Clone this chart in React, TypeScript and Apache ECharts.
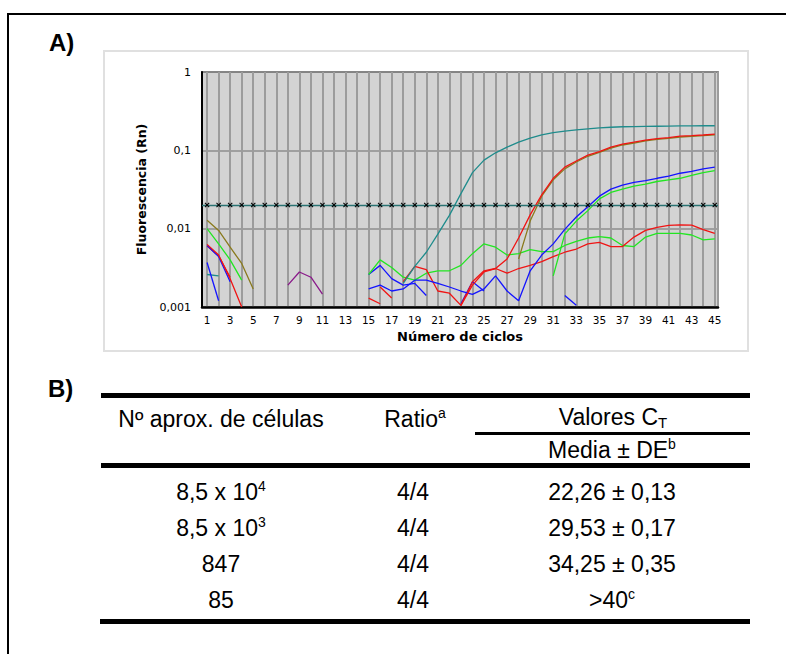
import React, { useEffect, useRef } from 'react';
import * as echarts from 'echarts';

// ---------- data ----------
const Y_TICK_LABELS = ['0,001', '0,01', '0,1', '1'];
const THRESHOLD = 0.02;
const CYCLES = [1,2,3,4,5,6,7,8,9,10,11,12,13,14,15,16,17,18,19,20,21,22,23,24,25,26,27,28,29,30,31,32,33,34,35,36,37,38,39,40,41,42,43,44,45];

const tealAmp: [number, number][] = [[18,0.0020],[19,0.0033],[20,0.0050],[21,0.0085],[22,0.0148],[23,0.028],[24,0.052],[25,0.075],[26,0.093],[27,0.110],[28,0.127],[29,0.143],[30,0.158],[31,0.168],[32,0.176],[33,0.182],[34,0.188],[35,0.193],[36,0.197],[37,0.200],[38,0.201],[39,0.202],[40,0.203],[41,0.204],[42,0.205],[43,0.205],[44,0.206],[45,0.206]];
const redAmp: [number, number][] = [[23,0.00105],[24,0.0019],[25,0.0028],[26,0.0031],[27,0.0041],[28,0.0076],[29,0.015],[30,0.027],[31,0.044],[32,0.061],[33,0.073],[34,0.087],[35,0.096],[36,0.110],[37,0.120],[38,0.127],[39,0.135],[40,0.141],[41,0.145],[42,0.152],[43,0.154],[44,0.157],[45,0.161]];
const oliveAmp: [number, number][] = [[28,0.0041],[29,0.0125],[30,0.026],[31,0.042],[32,0.058],[33,0.071],[34,0.084],[35,0.094],[36,0.107],[37,0.117],[38,0.124],[39,0.132],[40,0.138],[41,0.142],[42,0.148],[43,0.151],[44,0.154],[45,0.158]];
const blueAmp: [number, number][] = [[15,0.0017],[16,0.0019],[17,0.0016],[18,0.0017],[19,0.0022],[20,0.0022],[21,0.0020],[22,0.0018],[23,0.0016],[24,0.00145],[25,0.0017],[26,0.0025],[27,0.0016],[28,0.0012],[29,0.0029],[30,0.0046],[31,0.0064],[32,0.0098],[33,0.0141],[34,0.019],[35,0.026],[36,0.032],[37,0.036],[38,0.039],[39,0.041],[40,0.044],[41,0.047],[42,0.051],[43,0.054],[44,0.058],[45,0.061]];
const greenAmp: [number, number][] = [[31,0.0025],[32,0.0085],[33,0.0125],[34,0.017],[35,0.024],[36,0.029],[37,0.032],[38,0.035],[39,0.037],[40,0.040],[41,0.042],[42,0.044],[43,0.048],[44,0.052],[45,0.055]];
const greenBase: [number, number][] = [[15,0.0026],[16,0.0040],[17,0.0032],[18,0.0024],[19,0.0022],[20,0.0027],[21,0.0029],[22,0.0029],[23,0.0034],[24,0.0048],[25,0.0064],[26,0.0058],[27,0.0046],[28,0.0048],[29,0.0054],[30,0.0051],[31,0.0051],[32,0.0061],[33,0.0069],[34,0.0076],[35,0.0079],[36,0.0076],[37,0.0061],[38,0.0059],[39,0.0078],[40,0.0087],[41,0.0087],[42,0.0087],[43,0.0083],[44,0.0072],[45,0.0074]];
const redBase: [number, number][] = [[18,0.0021],[19,0.0033],[20,0.0030],[21,0.0016],[22,0.0015],[23,0.00105],[24,0.0021],[25,0.0029],[26,0.0031],[27,0.0027],[28,0.0031],[29,0.0034],[30,0.0038],[31,0.0044],[32,0.0050],[33,0.0055],[34,0.0064],[35,0.0067],[36,0.0059],[37,0.0059],[38,0.0078],[39,0.0095],[40,0.0104],[41,0.0110],[42,0.0112],[43,0.0111],[44,0.0097],[45,0.0087]];
const blueShort: [number, number][] = [[15,0.0026],[16,0.0034],[17,0.0023],[18,0.0019],[19,0.0020],[20,0.0014]];
const blueMid: [number, number][] = [[23,0.0011],[24,0.0021],[25,0.0016]];
const blueLate: [number, number][] = [[32,0.0014],[33,0.00105]];
const redShortA: [number, number][] = [[15,0.0013],[16,0.0011]];
const redShortB: [number, number][] = [[16,0.0018],[17,0.0013]];
const purpleMid: [number, number][] = [[8,0.0019],[9,0.0028],[10,0.0024],[11,0.00146]];
const oliveEarly: [number, number][] = [[1,0.0128],[2,0.0095],[3,0.0058],[4,0.0036],[5,0.0017]];
const greenEarly: [number, number][] = [[1,0.0100],[2,0.0064],[3,0.0040],[4,0.0022]];
const redEarly: [number, number][] = [[1,0.0063],[2,0.0046],[3,0.0023],[4,0.0010]];
const redEarly2: [number, number][] = [[1,0.0060],[2,0.0045],[3,0.0024]];
const blueEarly: [number, number][] = [[1,0.0061],[2,0.0044],[3,0.0021]];
const blueEarly2: [number, number][] = [[1,0.0037],[2,0.0012]];
const tealEarly: [number, number][] = [[1,0.0026],[2,0.0025]];

// table
const CELL_BASE = ['8,5 x 10', '8,5 x 10', '847', '85'];
const CELL_EXP = ['4', '3', '', ''];
const RATIOS = ['4/4', '4/4', '4/4', '4/4'];
const CT_VALUES = ['22,26 ± 0,13', '29,53 ± 0,17', '34,25 ± 0,35', '>40'];
const CT_SUP = ['', '', '', 'c'];

const TEAL = '#1f8c8c';
const RED = '#f01414';
const BLUE = '#1414ff';
const GREEN = '#22e622';
const OLIVE = '#8a7a1e';
const PURPLE = '#8a1a8a';

const TABLE_FONT = '"Liberation Sans", Arial, sans-serif';

function line(data: [number, number][], color: string, z = 3) {
  return {
    type: 'line',
    data,
    symbol: 'none',
    showSymbol: false,
    lineStyle: { color, width: 1.3 },
    itemStyle: { color },
    silent: true,
    z,
  };
}

const Chart: React.FC = () => {
  const ref = useRef<HTMLDivElement>(null);
  useEffect(() => {
    if (!ref.current) return;
    const chart = echarts.init(ref.current, undefined, { renderer: 'svg' });
    const option: any = {
      animation: false,
      grid: {
        left: 99, top: 22, right: 31, bottom: 45,
        show: true, backgroundColor: '#d3d3d3', borderColor: '#444', borderWidth: 1.5,
      },
      xAxis: {
        type: 'value',
        min: 0.56,
        max: 45.28,
        splitNumber: 45,
        minInterval: 1,
        maxInterval: 1,
        name: 'Número de ciclos',
        nameLocation: 'middle',
        nameGap: 20,
        nameTextStyle: { fontFamily: 'DejaVu Sans', fontWeight: 'bold', fontSize: 13, color: '#000' },
        axisLine: { show: true, onZero: false, lineStyle: { color: '#000', width: 2.5 } },
        axisTick: { show: false },
        axisLabel: {
          margin: 7,
          fontFamily: 'DejaVu Sans', fontSize: 10.5, color: '#000',
          formatter: (v: number) => (Math.abs(v - Math.round(v)) < 1e-6 && Math.round(v) % 2 === 1 ? String(Math.round(v)) : ''),
        },
        splitLine: { show: true, lineStyle: { color: '#9c9c9c', width: 2 } },
      },
      yAxis: {
        type: 'log',
        logBase: 10,
        min: 0.001,
        max: 1,
        name: 'Fluorescencia (Rn)',
        nameLocation: 'middle',
        nameGap: 54,
        nameTextStyle: { fontFamily: 'DejaVu Sans', fontWeight: 'bold', fontSize: 12.5, color: '#000' },
        axisLine: { show: true, lineStyle: { color: '#000', width: 2 } },
        axisTick: { show: false },
        axisLabel: {
          margin: 11,
          fontFamily: 'DejaVu Sans', fontSize: 11, color: '#000',
          formatter: (v: number) => {
            const e = Math.round(Math.log10(v));
            return Y_TICK_LABELS[e + 3] ?? '';
          },
        },
        splitLine: { show: true, lineStyle: { color: '#8e8e8e', width: 1.5 } },
        minorSplitLine: { show: false },
      },
      series: [
        line(tealEarly, TEAL),
        line(blueEarly2, BLUE),
        line(oliveEarly, OLIVE),
        line(greenEarly, GREEN),
        line(redEarly2, RED),
        line(blueEarly, BLUE),
        line(redEarly, RED),
        line(purpleMid, PURPLE),
        line(redShortA, RED),
        line(redShortB, RED),
        line(blueShort, BLUE),
        line(greenBase, GREEN),
        line(blueMid, BLUE),
        line(redBase, RED),
        line(blueLate, BLUE),
        line(greenAmp, GREEN),
        line(blueAmp, BLUE),
        line(oliveAmp, OLIVE),
        line(redAmp, RED),
        line(tealAmp, TEAL),
        {
          type: 'line',
          data: CYCLES.map((c) => [c, THRESHOLD]),
          symbol: 'path://M0,1.5L1.5,0L5,3.5L8.5,0L10,1.5L6.5,5L10,8.5L8.5,10L5,6.5L1.5,10L0,8.5L3.5,5Z',
          symbolSize: 5,
          showSymbol: true,
          itemStyle: { color: '#000' },
          lineStyle: { width: 0, opacity: 0 },
          silent: true,
          z: 5,
          markLine: {
            silent: true,
            symbol: 'none',
            label: { show: false },
            lineStyle: { color: '#2a7373', width: 1.3, type: 'solid' },
            data: [{ yAxis: THRESHOLD }],
          },
        },
      ],
    };
    chart.setOption(option);
    return () => chart.dispose();
  }, []);
  return <div ref={ref} style={{ position: 'absolute', left: 103, top: 50, width: 646, height: 302 }} />;
};

const FS = 23;
const Txt: React.FC<{ cx: number; baseline: number; children: React.ReactNode }> = ({ cx, baseline, children }) => (
  <div
    style={{
      position: 'absolute', left: cx - 150, width: 300, top: baseline - 19.5,
      textAlign: 'center', fontSize: FS, lineHeight: `${FS}px`, fontFamily: TABLE_FONT, color: '#000', whiteSpace: 'nowrap',
    }}
  >
    {children}
  </div>
);
const Sup: React.FC<{ children: React.ReactNode }> = ({ children }) => (
  <span style={{ fontSize: 14, position: 'relative', top: -9, lineHeight: 0 }}>{children}</span>
);
const Sub: React.FC<{ children: React.ReactNode }> = ({ children }) => (
  <span style={{ fontSize: 15, position: 'relative', top: 3, lineHeight: 0 }}>{children}</span>
);
const Rule: React.FC<{ x1: number; x2: number; y: number; h: number }> = ({ x1, x2, y, h }) => (
  <div style={{ position: 'absolute', left: x1, width: x2 - x1, top: y, height: h, background: '#000' }} />
);

const COL1 = 221;
const COL2 = 413;
const COL3 = 612;
const ROW_BASE = [500, 536, 572, 608];

export default function App() {
  return (
    <div style={{ position: 'absolute', left: 0, top: 0, width: 786, height: 654, overflow: 'hidden', background: '#fff' }}>
      <div style={{ position: 'absolute', left: 7, top: 13, width: 900, height: 900, borderLeft: '2px solid #000', borderTop: '2px solid #000' }} />
      <div style={{ position: 'absolute', left: 49, top: 31, fontSize: 24, lineHeight: '24px', fontWeight: 'bold', fontFamily: TABLE_FONT }}>A)</div>
      <div style={{ position: 'absolute', left: 103, top: 50, width: 646, height: 302, border: '2px solid #e0e0e0', boxSizing: 'border-box' }} />
      <Chart />
      <div style={{ position: 'absolute', left: 48, top: 377, fontSize: 24, lineHeight: '24px', fontWeight: 'bold', fontFamily: TABLE_FONT }}>B)</div>

      <Rule x1={101} x2={750} y={393} h={5} />
      <Txt cx={COL1} baseline={427}>Nº aprox. de células</Txt>
      <Txt cx={COL2 + 2} baseline={427}>Ratio<Sup>a</Sup></Txt>
      <Txt cx={COL3 + 1} baseline={425}>Valores C<Sub>T</Sub></Txt>
      <Rule x1={475} x2={750} y={432} h={3} />
      <Txt cx={COL3} baseline={458.5}>Media ± DE<Sup>b</Sup></Txt>
      <Rule x1={101} x2={750} y={463} h={5} />

      {CELL_BASE.map((b, i) => (
        <React.Fragment key={i}>
          <Txt cx={COL1} baseline={ROW_BASE[i]}>{b}{CELL_EXP[i] ? <Sup>{CELL_EXP[i]}</Sup> : null}</Txt>
          <Txt cx={COL2} baseline={ROW_BASE[i]}>{RATIOS[i]}</Txt>
          <Txt cx={COL3} baseline={ROW_BASE[i]}>{CT_VALUES[i]}{CT_SUP[i] ? <Sup>{CT_SUP[i]}</Sup> : null}</Txt>
        </React.Fragment>
      ))}
      <Rule x1={100} x2={750} y={619} h={5} />
    </div>
  );
}
